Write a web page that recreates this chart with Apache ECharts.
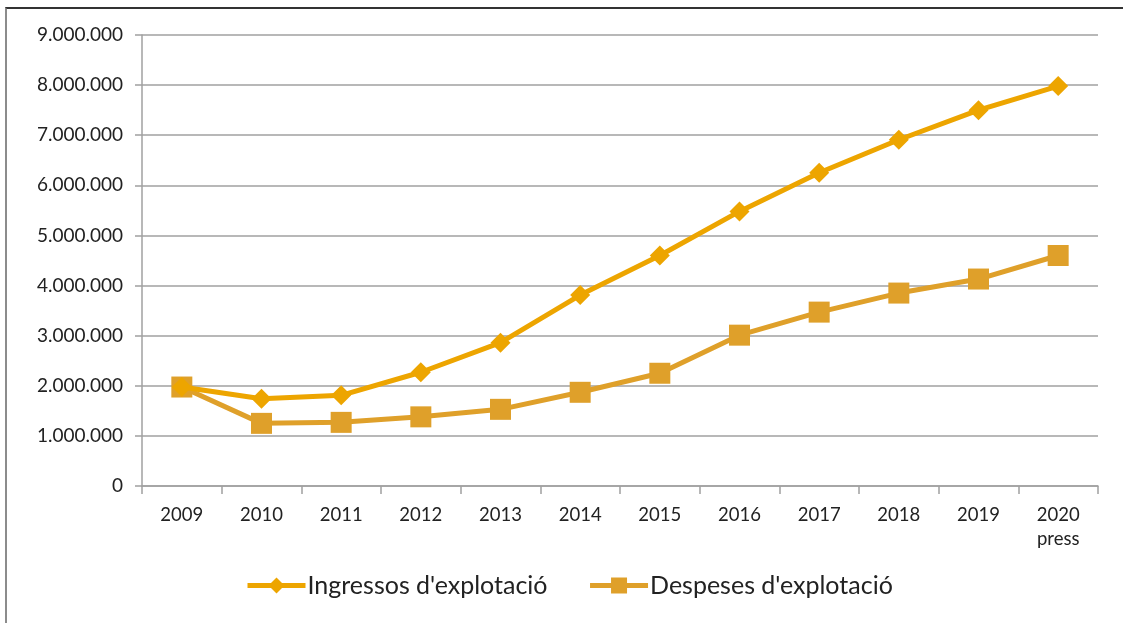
<!DOCTYPE html>
<html>
<head>
<meta charset="utf-8">
<script src="https://cdn.jsdelivr.net/npm/echarts@6/dist/echarts.min.js"></script>
<style>
	html, body { margin: 0; padding: 0; background: #fff; }
	#frame { position: absolute; left: 5px; top: 7px; width: 1130px; height: 630px; border-left: 2px solid #8c8c8c; border-top: 2px solid #333; }
	#main { position: absolute; left: 0; top: 0; width: 1123px; height: 623px; }
</style>
</head>
<body>
<div id="frame"></div>
<div id="main"></div>
<script>
const years = ["2009", "2010", "2011", "2012", "2013", "2014", "2015", "2016", "2017", "2018", "2019", "2020\npress"];
const ingressos = [1975000, 1740000, 1810000, 2270000, 2860000, 3810000, 4600000, 5480000, 6250000, 6910000, 7500000, 7980000];
const despeses = [1975000, 1250000, 1270000, 1380000, 1530000, 1870000, 2250000, 3010000, 3470000, 3850000, 4130000, 4600000];

const fmt = (v) => String(v).replace(/\B(?=(\d{3})+(?!\d))/g, ".");

const myChart = echarts.init(document.getElementById("main"), null, { renderer: "canvas" });

myChart.setOption({
	backgroundColor: "transparent",
	animation: false,
	textStyle: { fontFamily: "Lato" },
	grid: { left: 142, right: 25, top: 35, bottom: 137 },
	legend: {
		bottom: 20,
		left: 240,
		itemWidth: 58,
		itemHeight: 20,
		itemGap: 40,
		lineStyle: { width: 5 },
		textStyle: { fontSize: 25, color: "#222", fontFamily: "Lato", padding: [0, 0, 0, -3] },
		data: ["Ingressos d'explotació", "Despeses d'explotació"],
	},
	xAxis: {
		type: "category",
		data: years,
		boundaryGap: true,
		axisLine: { lineStyle: { color: "#a0a0a0", width: 1.5 } },
		axisTick: { show: true, length: 8, lineStyle: { color: "#a0a0a0", width: 1.5 } },
		axisLabel: { fontSize: 18.5, color: "#222", margin: 17, lineHeight: 24 },
	},
	yAxis: {
		type: "value",
		min: 0,
		max: 9000000,
		interval: 1000000,
		axisLine: { show: true, lineStyle: { color: "#a0a0a0", width: 1.5 } },
		axisTick: { show: true, length: 7, lineStyle: { color: "#a0a0a0", width: 1.5 } },
		axisLabel: { fontSize: 19, color: "#222", margin: 19, formatter: fmt },
		splitLine: { lineStyle: { color: "#a0a0a0", width: 1.5 } },
	},
	series: [
		{
			name: "Ingressos d'explotació",
			type: "line",
			data: ingressos,
			symbol: "diamond",
			symbolSize: 20,
			lineStyle: { color: "#eda500", width: 5 },
			itemStyle: { color: "#eda500" },
			z: 3,
		},
		{
			name: "Despeses d'explotació",
			type: "line",
			data: despeses,
			symbol: "rect",
			symbolSize: 21,
			lineStyle: { color: "#dfa02a", width: 5 },
			itemStyle: { color: "#dfa02a" },
			z: 2,
		},
	],
});
</script>
</body>
</html>
